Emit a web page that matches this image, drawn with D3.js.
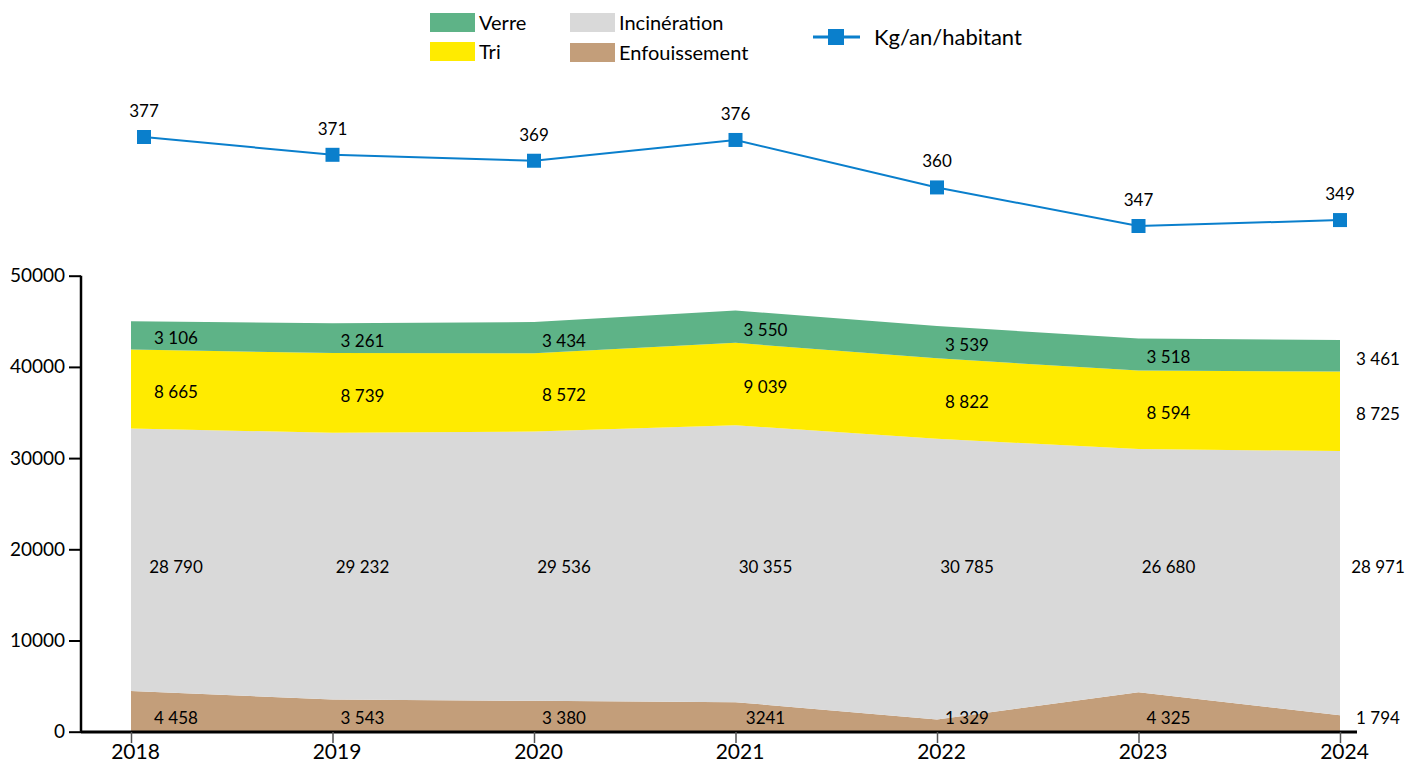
<!DOCTYPE html>
<html><head><meta charset="utf-8">
<script src="https://cdn.jsdelivr.net/npm/d3@7"></script>
<style>body{margin:0;background:#fff}svg{display:block;font-family:Lato,"Open Sans",sans-serif}</style>
</head><body><svg id="c" width="1417" height="767"></svg>
<script>
const years = ["2018","2019","2020","2021","2022","2023","2024"];
const enfouissement = [4458,3543,3380,3241,1329,4325,1794];
const incineration = [28790,29232,29536,30355,30785,26680,28971];
const tri = [8665,8739,8572,9039,8822,8594,8725];
const verre = [3106,3261,3434,3550,3539,3518,3461];
const kgHab = [377,371,369,376,360,347,349];
const enfLabels = ["4 458","3 543","3 380","3241","1 329","4 325","1 794"];
const yTicks = [0,10000,20000,30000,40000,50000];
const seriesNames = ["Enfouissement","Incinération","Tri","Verre"];

const colors = {"Enfouissement":"#C39E7A","Incinération":"#D9D9D9","Tri":"#FFEB00","Verre":"#5EB387"};
const lineColor = "#0A7FCC";

const svg = d3.select("#c");
const x = d3.scalePoint().domain(years).range([131,1340]);
const y = d3.scaleLinear().domain([0,50000]).range([731.7,275.7]);
const yl = d3.scaleLinear().domain([347,377]).range([226,137]);

const rows = years.map((yr,i)=>({year:yr,"Enfouissement":enfouissement[i],"Incinération":incineration[i],"Tri":tri[i],"Verre":verre[i]}));
const stack = d3.stack().keys(seriesNames)(rows);
const area = d3.area().x(d=>x(d.data.year)).y0(d=>y(d[0])).y1(d=>y(d[1]));

svg.append("g").selectAll("path").data(stack).join("path")
  .attr("d",area).attr("fill",d=>colors[d.key]);

// labels
const fmt = d3.formatLocale({decimal:",",thousands:" ",grouping:[3],currency:["","€"]}).format(",d");
const lab = svg.append("g").attr("font-size",17).attr("fill","#000").attr("text-anchor","middle");
stack.forEach(s=>{
  s.forEach((d,i)=>{
    const dx = i===0 ? 45 : (i===years.length-1 ? 38 : 30);
    let cy;
    if(s.key==="Enfouissement") cy = y(1500);
    else if(s.key==="Incinération") cy = y(18000);
    else cy = (y(d[0])+y(d[1]))/2 + 3;
    const t = s.key==="Enfouissement" ? enfLabels[i] : fmt(d.data[s.key]);
    lab.append("text").attr("x",x(d.data.year)+dx).attr("y",cy).attr("dy","0.35em").text(t);
  });
});

// y axis
const ya = svg.append("g").attr("transform","translate(81,0)")
  .call(d3.axisLeft(y).tickValues(yTicks).tickSize(12).tickPadding(4).tickFormat(d3.format("d")));
ya.select(".domain").attr("stroke","#000").attr("stroke-width",2.5).attr("d","M0,731.7V275.7");
ya.selectAll(".tick line").attr("stroke","#000").attr("stroke-width",2);
ya.selectAll(".tick text").attr("font-size",19).attr("fill","#000").attr("font-family","Lato,sans-serif");

// x axis
const xa = svg.append("g").attr("transform","translate(0,732)")
  .call(d3.axisBottom(x).tickSize(11).tickPadding(3));
xa.select(".domain").attr("stroke","#000").attr("stroke-width",3).attr("d","M81,0H1357");
xa.selectAll(".tick line").attr("stroke","#555").attr("stroke-width",1.5);
xa.selectAll(".tick text").attr("font-size",21).attr("fill","#000").attr("dx",4).attr("dy","0.6em").attr("font-family","Lato,sans-serif");

// line
const lx = (d,i)=> x(years[i]) + (i===0 ? 13 : 0);
const lineG = svg.append("g");
lineG.append("path").datum(kgHab)
  .attr("d",d3.line().x((d,i)=>lx(d,i)).y(d=>yl(d)))
  .attr("fill","none").attr("stroke",lineColor).attr("stroke-width",2);
lineG.selectAll("rect").data(kgHab).join("rect")
  .attr("x",(d,i)=>lx(d,i)-7).attr("y",d=>yl(d)-7).attr("width",14).attr("height",14).attr("fill",lineColor);
lineG.selectAll("text").data(kgHab).join("text")
  .attr("x",(d,i)=>lx(d,i)).attr("y",d=>yl(d)-20).attr("text-anchor","middle")
  .attr("font-size",17).attr("fill","#000").text(d=>d);

// legend
const leg = svg.append("g");
const legItems = [
  {k:"Verre",x:430,y:13},{k:"Tri",x:430,y:42},
  {k:"Incinération",x:570,y:13},{k:"Enfouissement",x:570,y:43}];
legItems.forEach(it=>{
  leg.append("rect").attr("x",it.x).attr("y",it.y).attr("width",45).attr("height",19).attr("fill",colors[it.k]);
  leg.append("text").attr("x",it.x+49).attr("y",it.y+10).attr("dy","0.35em").attr("font-size",20).attr("fill","#000").text(it.k);
});
leg.append("line").attr("x1",813).attr("x2",860).attr("y1",37).attr("y2",37).attr("stroke",lineColor).attr("stroke-width",3);
leg.append("rect").attr("x",828).attr("y",29).attr("width",16).attr("height",16).attr("fill",lineColor);
leg.append("text").attr("x",874).attr("y",37).attr("dy","0.35em").attr("font-size",22).attr("fill","#000").text("Kg/an/habitant");
</script></body></html>
